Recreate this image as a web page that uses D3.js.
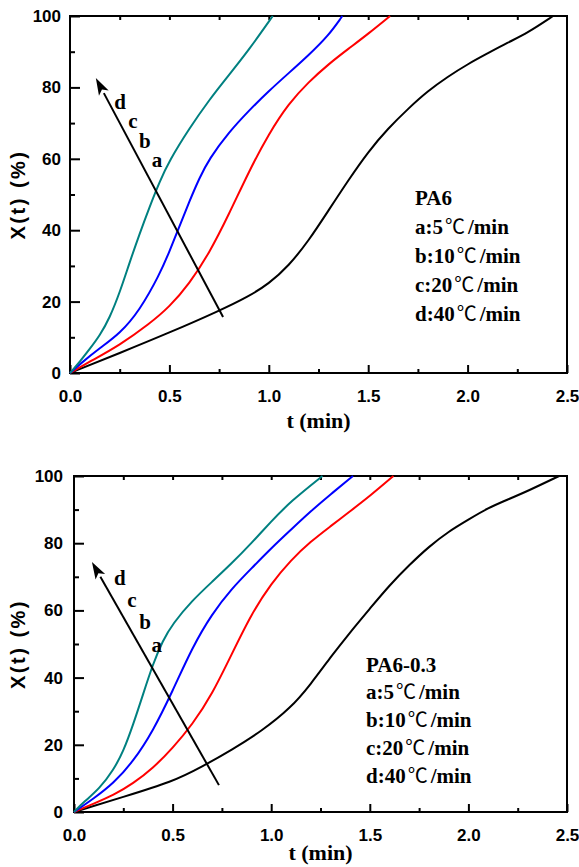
<!DOCTYPE html>
<html>
<head>
<style>
  body { margin: 0; background: #fff; }
  .tick text { font: bold 17px "Liberation Sans", Arial, sans-serif; fill: #000; }
  .ylab { font: bold 20px "Liberation Sans", Arial, sans-serif; letter-spacing: 2.5px; }
  .xlab { font: bold 22px "Liberation Serif", "Times New Roman", serif; }
  .legend text { font: bold 21px "Liberation Serif", "Times New Roman", serif; }
  .letters text { font: bold 21px "Liberation Serif", "Times New Roman", serif; }
  .deg { font-family: "Noto Sans CJK SC", sans-serif; font-weight: normal; font-size: 20px; }
  .curve { fill: none; stroke-width: 2; }
</style>
<script src="https://d3js.org/d3.v7.min.js"></script>
</head>
<body>
<svg width="579" height="867"></svg>
<script>
// ---- data: PA6 ----
var pa6A_t = [0, 0.25, 0.5, 0.75, 0.9, 1.0, 1.1, 1.2, 1.3, 1.4, 1.5, 1.6, 1.7, 1.8, 1.9, 2.0, 2.1, 2.2, 2.3, 2.43];
var pa6A_x = [0, 5.6, 11.3, 17.4, 21.5, 25, 30, 37, 45.5, 54, 62, 68.5, 74, 79, 83, 86.5, 89.5, 92.5, 95.2, 100];
var pa6B_t = [0, 0.1, 0.25, 0.4, 0.5, 0.6, 0.7, 0.8, 0.9, 1.0, 1.1, 1.2, 1.3, 1.4, 1.5, 1.61];
var pa6B_x = [0, 3.2, 7.8, 13.8, 18.5, 25, 33.5, 44.5, 56.5, 67, 75.5, 81.5, 86.5, 90.8, 95, 100];
var pa6C_t = [0, 0.05, 0.15, 0.25, 0.35, 0.45, 0.5, 0.55, 0.6, 0.65, 0.7, 0.8, 0.9, 1.0, 1.1, 1.2, 1.3, 1.37];
var pa6C_x = [0, 2.5, 7, 11, 17.5, 27.5, 34, 41, 48, 54.5, 60, 67.5, 73.5, 79, 84, 89, 94.5, 100];
var pa6D_t = [0, 0.05, 0.1, 0.15, 0.2, 0.25, 0.3, 0.35, 0.4, 0.45, 0.5, 0.6, 0.7, 0.8, 0.9, 1.02];
var pa6D_x = [0, 3.2, 6.8, 10.5, 15.5, 22.5, 31, 39, 46.5, 53.5, 59.5, 68.5, 76.5, 83.5, 90.5, 100];

// ---- data: PA6-0.3 ----
var pa603A_t = [0, 0.25, 0.5, 0.65, 0.8, 0.95, 1.1, 1.2, 1.3, 1.4, 1.5, 1.6, 1.7, 1.8, 1.9, 2.0, 2.1, 2.2, 2.3, 2.46];
var pa603A_x = [0, 4.5, 9, 13.5, 18.5, 24, 31, 38, 46, 53.5, 60.5, 67.5, 73.5, 79, 83.5, 87, 90.5, 93, 95.5, 100];
var pa603B_t = [0, 0.1, 0.2, 0.3, 0.4, 0.5, 0.6, 0.7, 0.8, 0.9, 1.0, 1.1, 1.2, 1.3, 1.4, 1.5, 1.62];
var pa603B_x = [0, 2.5, 5, 8.5, 13, 19, 26, 35, 47, 59, 68, 75, 80.5, 85, 89.5, 94, 100];
var pa603C_t = [0, 0.1, 0.2, 0.3, 0.4, 0.5, 0.6, 0.7, 0.8, 0.9, 1.0, 1.1, 1.2, 1.3, 1.415];
var pa603C_x = [0, 4, 8.5, 15, 24, 36, 49, 59, 66.5, 72.5, 78.5, 84, 89.5, 94.5, 100];
var pa603D_t = [0, 0.05, 0.13, 0.2, 0.25, 0.3, 0.35, 0.4, 0.45, 0.5, 0.6, 0.7, 0.8, 0.9, 1.0, 1.1, 1.26];
var pa603D_x = [0, 3, 7, 12.5, 18, 26, 35, 44, 51, 56, 63, 68.5, 74, 80, 86.5, 92.5, 100];

var rateLetters = ["a:5", "b:10", "c:20", "d:40"];
var colors = ["#000000", "#ff0000", "#0000ff", "#008080"];
var xTicks = [0, 0.5, 1.0, 1.5, 2.0, 2.5];
var yTicks = [0, 20, 40, 60, 80, 100];

var svg = d3.select("svg");

function drawPanel(p) {
    var x = d3.scaleLinear().domain([0, 2.5]).range([p.left, p.right]);
    var y = d3.scaleLinear().domain([0, 100]).range([p.bottom, p.top]);
    var g = svg.append("g");

    // minor ticks
    g.append("g").attr("transform", "translate(0," + p.bottom + ")")
        .call(d3.axisBottom(x).tickValues(d3.range(0.25, 2.5, 0.5)).tickSize(-4).tickFormat(""))
        .call(function(s) { s.select(".domain").remove(); });
    g.append("g").attr("transform", "translate(" + p.left + ",0)")
        .call(d3.axisLeft(y).tickValues(d3.range(10, 100, 20)).tickSize(-5).tickFormat(""))
        .call(function(s) { s.select(".domain").remove(); });
    // top mirror ticks
    g.append("g").attr("transform", "translate(0," + p.top + ")")
        .call(d3.axisTop(x).tickValues(d3.range(0.25, 2.5, 0.25)).tickSize(-4).tickFormat(""))
        .call(function(s) { s.select(".domain").remove(); });

    // major ticks
    g.append("g").attr("transform", "translate(0," + p.bottom + ")")
        .call(d3.axisBottom(x).tickValues(xTicks).tickSize(-8).tickPadding(17).tickFormat(d3.format(".1f")))
        .call(function(s) { s.select(".domain").remove(); });
    g.append("g").attr("transform", "translate(" + p.left + ",0)")
        .call(d3.axisLeft(y).tickValues(yTicks).tickSize(-10).tickPadding(p.ypad).tickFormat(d3.format("d")))
        .call(function(s) { s.select(".domain").remove(); });
    g.selectAll(".tick line").attr("stroke", "#000").attr("stroke-width", 2);

    // frame
    g.append("rect").attr("x", p.left).attr("y", p.top)
        .attr("width", p.right - p.left).attr("height", p.bottom - p.top)
        .attr("fill", "none").attr("stroke", "#000").attr("stroke-width", 2);

    var line = d3.line().curve(d3.curveBasis)
        .x(function(d) { return x(d[0]); }).y(function(d) { return y(d[1]); });

    p.series.forEach(function(s, i) {
        g.append("path").attr("class", "curve")
            .attr("d", line(d3.zip(s[0], s[1])))
            .attr("stroke", colors[i]);
    });

    // arrow
    var x1 = x(p.arrow[0][0]), y1 = y(p.arrow[0][1]), x2 = x(p.arrow[1][0]), y2 = y(p.arrow[1][1]);
    var ang = Math.atan2(y2 - y1, x2 - x1);
    var hl = 17, hw = 5.5;
    var bx = x2 - hl * Math.cos(ang), by = y2 - hl * Math.sin(ang);
    g.append("line").attr("x1", x1).attr("y1", y1).attr("x2", bx).attr("y2", by)
        .attr("stroke", "#000").attr("stroke-width", 2);
    g.append("path")
        .attr("d", "M" + x2 + "," + y2 +
            "L" + (bx + hw * Math.sin(ang)) + "," + (by - hw * Math.cos(ang)) +
            "L" + (bx + 4 * Math.cos(ang)) + "," + (by + 4 * Math.sin(ang)) +
            "L" + (bx - hw * Math.sin(ang)) + "," + (by + hw * Math.cos(ang)) + "Z")
        .attr("fill", "#000");

    var letters = g.append("g").attr("class", "letters");
    p.letters.forEach(function(l) {
        letters.append("text").attr("x", x(l[1])).attr("y", y(l[2]))
            .attr("text-anchor", "middle").attr("dominant-baseline", "central").text(l[0]);
    });

    // legend text
    var lg = g.append("g").attr("class", "legend");
    lg.append("text").attr("x", p.legX).attr("y", p.legY[0]).text(p.name);
    rateLetters.forEach(function(t, i) {
        var tx = lg.append("text").attr("x", p.legX).attr("y", p.legY[i + 1]);
        tx.append("tspan").text(t);
        tx.append("tspan").attr("class", "deg").attr("dx", 2).text("\u2103");
        tx.append("tspan").attr("dx", 3).text("/min");
    });

    // axis titles
    g.append("text").attr("class", "ylab")
        .attr("transform", "translate(" + p.ylabX + "," + ((p.top + p.bottom) / 2) + ") rotate(-90)")
        .attr("text-anchor", "middle").text("X(t) (%)");
    g.append("text").attr("class", "xlab")
        .attr("x", (p.left + p.right) / 2).attr("y", p.xlabY)
        .attr("text-anchor", "middle").text("t (min)");
}

drawPanel({
    left: 70, right: 567, top: 16, bottom: 373, ypad: 9,
    series: [[pa6A_t, pa6A_x], [pa6B_t, pa6B_x], [pa6C_t, pa6C_x], [pa6D_t, pa6D_x]],
    arrow: [[0.77, 15.7], [0.13, 82.6]],
    letters: [["d", 0.252, 75.9], ["c", 0.317, 70.6], ["b", 0.377, 65], ["a", 0.438, 59.7]],
    name: "PA6", legX: 415, legY: [205, 234, 263, 292, 321],
    ylabX: 25, xlabY: 428
});

drawPanel({
    left: 74, right: 567, top: 476, bottom: 812, ypad: 11,
    series: [[pa603A_t, pa603A_x], [pa603B_t, pa603B_x], [pa603C_t, pa603C_x], [pa603D_t, pa603D_x]],
    arrow: [[0.735, 8.0], [0.091, 74.4]],
    letters: [["d", 0.233, 69.6], ["c", 0.294, 63.1], ["b", 0.36, 56.5], ["a", 0.42, 49.7]],
    name: "PA6-0.3", legX: 366, legY: [672, 699, 727, 755, 783],
    ylabX: 25, xlabY: 860
});
</script>
</body>
</html>
